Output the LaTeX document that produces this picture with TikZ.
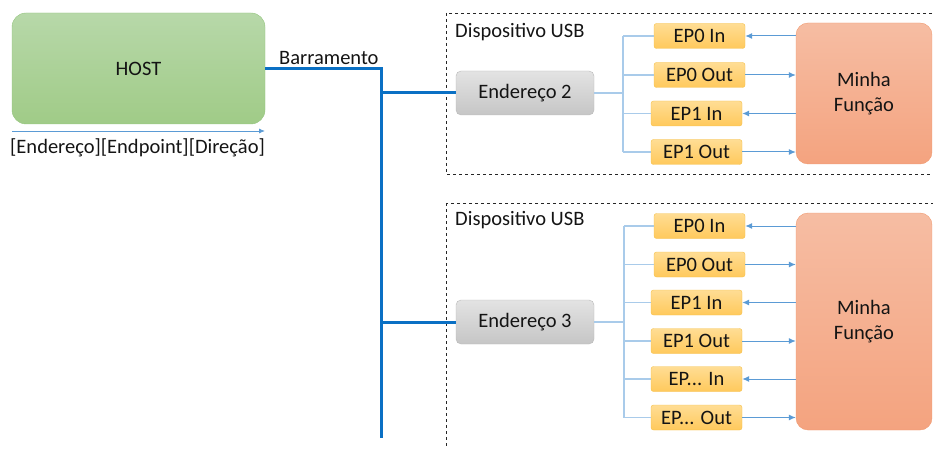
\documentclass[tikz,border=0pt]{standalone}
\usepackage{fontspec}
\setmainfont{Carlito}
\usetikzlibrary{arrows.meta}
\definecolor{txt}{HTML}{141414}
\definecolor{busblue}{HTML}{0A70C4}
\definecolor{thinblue}{HTML}{A9CBEA}
\definecolor{arrblue}{HTML}{5B9BD5}
\definecolor{hosttop}{HTML}{B7D8A9}
\definecolor{hostbot}{HTML}{A0CB87}
\definecolor{hostborder}{HTML}{93C47D}
\definecolor{eptop}{HTML}{FFDD94}
\definecolor{epbot}{HTML}{FFC95C}
\definecolor{epborder}{HTML}{F5C04A}
\definecolor{functop}{HTML}{F6BDA3}
\definecolor{funcbot}{HTML}{F4A37F}
\definecolor{funcborder}{HTML}{F09A70}
\tikzset{
  lbl/.style={font=\fontsize{20.5}{23}\selectfont, text=txt, inner sep=0pt},
  hostbox/.style={draw=hostborder, rounded corners=14pt, top color=hosttop, bottom color=hostbot, minimum width=253pt, minimum height=111pt, inner sep=0pt, lbl},
  addrbox/.style={draw=gray!55, rounded corners=5pt, top color=gray!22, bottom color=gray!45, minimum width=138pt, minimum height=44pt, inner sep=0pt, lbl},
  epbox/.style={draw=epborder, rounded corners=2.5pt, top color=eptop, bottom color=epbot, minimum width=91pt, minimum height=25pt, inner sep=0pt, lbl},
  funcbox/.style={draw=funcborder, rounded corners=12pt, top color=functop, bottom color=funcbot, inner sep=0pt, lbl, align=center},
  devbox/.style={draw=black!85, dashed, line width=0.8pt},
  bus/.style={draw=busblue, line width=3pt},
  tree/.style={draw=thinblue, line width=1.1pt},
  flow/.style={draw=arrblue, line width=1pt, -{Latex[length=7pt,width=6pt]}},
}
\begin{document}
\begin{tikzpicture}[x=1pt,y=-1pt]
\useasboundingbox (0,0) rectangle (933,449);
% dashed device boxes
\draw[devbox] (446,13) rectangle (945,174);
\draw[devbox] (446,203) rectangle (945,470);
\node[lbl, anchor=west] (dev1) at (455,32) {Dispositivo USB};
\node[lbl, anchor=west] (dev2) at (455,220) {Dispositivo USB};
% host
\node[hostbox] (host) at (138.5,68.5) {HOST};
\coordinate (ha) at (12,131);
\coordinate (hb) at (265,131);
\draw[draw=arrblue, line width=0.9pt, -{Latex[length=6pt,width=5pt]}] (ha) -- (hb);
\node[lbl, anchor=west] (fmt) at (10,148) {[Endereço][Endpoint][Direção]};
% address boxes
\node[addrbox] (a2) at (525,93) {Endereço 2};
\node[addrbox] (a3) at (525,322) {Endereço 3};
% bus
\coordinate (bj) at (381,69);
\coordinate (bend) at (381,438);
\draw[bus] (host.east |- bj) -- (bj) -- (bend);
\node[lbl, anchor=south west] (barr) at (279,65) {Barramento};
\draw[bus] (a2.west -| bj) -- (a2.west);
\draw[bus] (a3.west -| bj) -- (a3.west);
% functions
\node[funcbox, minimum width=136pt, minimum height=141pt] (f1) at (864,93.5) {Minha\\[2pt]Função};
\node[funcbox, minimum width=136pt, minimum height=217pt] (f2) at (864,321.5) {Minha\\[2pt]Função};
% endpoints device 1
\node[epbox] (e10i) at (699.5,36) {EP0 In};
\node[epbox] (e10o) at (699.5,75) {EP0 Out};
\node[epbox] (e11i) at (696.5,113.5) {EP1 In};
\node[epbox] (e11o) at (696.5,152) {EP1 Out};
% endpoints device 2
\node[epbox] (e20i) at (699.5,226) {EP0 In};
\node[epbox] (e20o) at (699.5,264.5) {EP0 Out};
\node[epbox] (e21i) at (696.5,302.5) {EP1 In};
\node[epbox] (e21o) at (696.5,341) {EP1 Out};
\node[epbox] (e2xi) at (696.5,379) {EP... In};
\node[epbox] (e2xo) at (696.5,417.5) {EP... Out};
% trees
\coordinate (t1) at (623,93);
\draw[tree] (a2.east) -- (t1);
\draw[tree] (t1 |- e10i.west) -- (t1 |- e11o.west);
\foreach \n in {e10i,e10o,e11i,e11o} \draw[tree] (t1 |- \n.west) -- (\n.west);
\coordinate (t2) at (624,322);
\draw[tree] (a3.east) -- (t2);
\draw[tree] (t2 |- e20i.west) -- (t2 |- e2xo.west);
\foreach \n in {e20i,e20o,e21i,e21o,e2xi,e2xo} \draw[tree] (t2 |- \n.west) -- (\n.west);
% flows
\foreach \n in {e10i,e11i} \draw[flow] (f1.west |- \n.east) -- (\n.east);
\foreach \n in {e10o,e11o} \draw[flow] (\n.east) -- (f1.west |- \n.east);
\foreach \n in {e20i,e21i,e2xi} \draw[flow] (f2.west |- \n.east) -- (\n.east);
\foreach \n in {e20o,e21o,e2xo} \draw[flow] (\n.east) -- (f2.west |- \n.east);
\end{tikzpicture}
\end{document}
